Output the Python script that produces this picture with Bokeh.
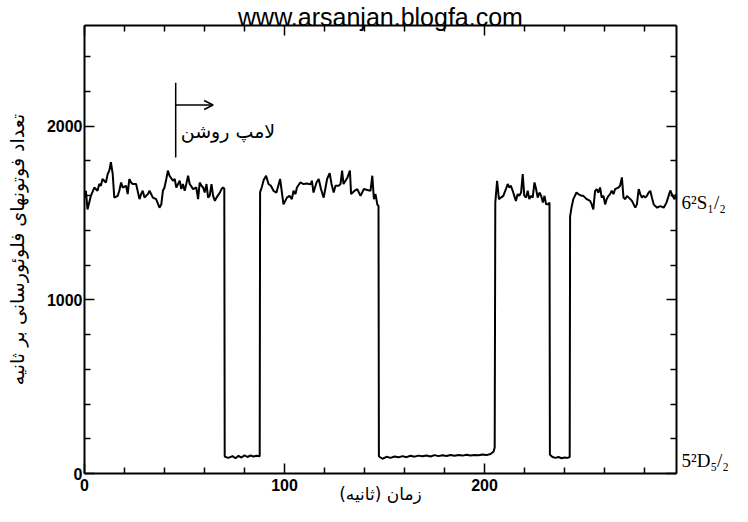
from bokeh.plotting import figure
from bokeh.models import Range1d, LinearAxis, FixedTicker, Label, Arrow, OpenHead, ColumnDataSource
from bokeh.embed import file_html
from bokeh.resources import INLINE

# ---- data ----
seg1_t = [0.0, 0.7, 1.5, 3.2, 4.9, 6.5, 7.4, 8.2, 9.0, 10.7, 11.6, 12.4, 13.2, 14.1, 14.9, 16.6,
          17.4, 18.3, 19.1, 20.8, 21.6, 22.4, 23.3, 24.1, 25.8, 27.5, 28.3, 29.1, 30.0, 30.8,
          31.7, 32.5, 34.2, 35.8, 37.5, 38.4, 39.2, 40.0, 40.9, 41.7, 42.5, 44.2, 45.1, 45.9,
          47.6, 48.4, 49.2, 50.1, 50.9, 51.8, 52.6, 54.3, 55.9, 56.8, 57.6, 58.5, 59.3, 60.1,
          61.0, 61.8, 62.6, 63.5, 64.3, 65.2, 66.0, 67.7, 68.5, 69.3, 69.9]
seg1_c = [1589, 1628, 1521, 1599, 1647, 1628, 1667, 1657, 1696, 1676, 1725, 1744, 1793, 1725, 1589, 1599,
          1628, 1676, 1647, 1657, 1609, 1696, 1676, 1667, 1667, 1580, 1609, 1628, 1589, 1599,
          1609, 1628, 1589, 1580, 1531, 1550, 1628, 1647, 1696, 1744, 1715, 1686, 1696, 1647,
          1686, 1638, 1667, 1628, 1667, 1715, 1667, 1638, 1647, 1580, 1676, 1657, 1647, 1618,
          1667, 1589, 1599, 1667, 1599, 1570, 1589, 1618, 1638, 1647, 1640]

low1_t = [70.1, 70.5, 72.0, 74.0, 75.5, 77.0, 78.5, 80.0, 81.5, 83.0, 84.5, 86.0, 87.6]
low1_c = [100, 95, 90, 100, 88, 102, 92, 105, 95, 104, 98, 102, 100]

seg2_t = [87.8, 88.6, 89.6, 90.8, 92.0, 93.2, 94.5, 96.0, 97.8, 99.5, 101.2, 102.5, 103.7, 104.5,
          105.5, 106.2, 107.9, 109.5, 111.2, 113.0, 113.7, 114.5, 116.0, 117.1, 118.2, 119.6,
          121.3, 122.6, 123.5, 124.6, 125.5, 127.1, 128.0, 128.8, 129.5, 130.5, 131.5, 132.7,
          133.3, 135.0, 136.4, 138.0, 139.7, 141.4, 143.0, 143.9, 144.7, 145.5, 146.4, 147.0]
seg2_c = [1620, 1647, 1690, 1715, 1667, 1657, 1628, 1618, 1696, 1550, 1589, 1599, 1580, 1628,
          1609, 1647, 1676, 1667, 1670, 1665, 1686, 1618, 1676, 1696, 1640, 1589,
          1696, 1730, 1667, 1618, 1657, 1657, 1667, 1744, 1667, 1686, 1705, 1744,
          1609, 1628, 1638, 1599, 1638, 1633, 1628, 1715, 1580, 1609, 1550, 1540]

low2_t = [147.2, 147.6, 149.0, 151.0, 153.0, 155.0, 157.0, 159.0, 161.0, 163.0, 165.0, 167.0, 169.0,
          171.0, 173.0, 175.0, 177.0, 179.0, 181.0, 183.0, 185.0, 187.0, 189.0, 191.0, 193.0,
          195.0, 197.0, 199.0, 201.0, 203.0, 204.5, 205.1]
low2_c = [100, 95, 85, 96, 90, 98, 93, 100, 94, 102, 97, 103, 99, 104, 98, 106, 100, 105, 101,
          107, 102, 106, 103, 108, 104, 107, 105, 109, 106, 112, 125, 150]

seg3_t = [205.4, 206.3, 207.2, 208.2, 209.4, 210.7, 211.6, 212.4, 213.2, 214.1, 214.9, 215.7,
          216.6, 217.4, 218.3, 219.1, 219.9, 220.8, 221.6, 222.4, 223.3, 224.1, 225.0, 225.8,
          226.6, 227.5, 228.3, 229.2, 230.0, 230.8, 231.7, 232.5]
seg3_c = [1560, 1686, 1580, 1589, 1599, 1638, 1667, 1647, 1657, 1628, 1599, 1570,
          1609, 1599, 1618, 1725, 1599, 1589, 1628, 1580, 1599, 1589, 1676, 1638,
          1589, 1618, 1599, 1560, 1599, 1550, 1550, 1560]

low3_t = [232.7, 233.0, 234.0, 235.5, 237.0, 238.5, 240.0, 241.5, 242.6]
low3_c = [110, 105, 95, 90, 95, 88, 92, 90, 95]

seg4_t = [242.8, 243.5, 244.4, 245.2, 246.0, 246.9, 248.6, 249.4, 251.1, 252.8, 253.6, 254.4,
          255.3, 256.1, 256.9, 257.8, 258.6, 259.5, 260.3, 261.1, 262.0, 262.8, 263.6, 264.5,
          265.3, 267.0, 267.8, 268.7, 269.5, 270.4, 271.2, 272.9, 273.7, 275.4, 276.2, 277.1,
          277.9, 278.7, 279.6, 280.4, 281.2, 282.1, 282.9, 283.7, 284.6, 285.4, 286.3, 287.9,
          289.6, 291.0, 292.9, 294.0, 295.0, 296.0]
seg4_c = [1480, 1531, 1580, 1599, 1618, 1609, 1599, 1599, 1580, 1570, 1550, 1521,
          1628, 1638, 1618, 1647, 1589, 1599, 1550, 1580, 1599, 1609, 1628, 1609,
          1638, 1647, 1657, 1705, 1589, 1580, 1599, 1580, 1570, 1531, 1550, 1638,
          1609, 1589, 1599, 1589, 1599, 1618, 1628, 1589, 1550, 1540, 1531, 1540,
          1531, 1560, 1630, 1600, 1580, 1610]

time_s = seg1_t + low1_t + seg2_t + low2_t + seg3_t + low3_t + seg4_t
counts = seg1_c + low1_c + seg2_c + low2_c + seg3_c + low3_c + seg4_c

x_major = [0, 100, 200]
x_minor = [20, 40, 60, 80, 120, 140, 160, 180, 220, 240, 260, 280]
y_major = [0, 1000, 2000]
y_minor = [200, 400, 600, 800, 1200, 1400, 1600, 1800, 2200, 2400]

x_title = "زمان (ثانیه)"
y_title = "تعداد فوتونهای فلوئورسانی بر ثانیه"
lamp_text = "لامپ روشن"
site_text = "www.arsanjan.blogfa.com"

level_values = [1560, 75]
level_names = ["6²S₁/₂", "5²D₅/₂"]

lamp_on_time = 45.6
lamp_line_y = (1820, 2250)
lamp_arrow_y = 2122
lamp_arrow_end = 64.3

X_END = 296
Y_END = 2580

p = figure(width=732, height=506, output_backend="svg", toolbar_location=None,
           x_range=Range1d(0, X_END), y_range=Range1d(0, Y_END),
           x_axis_location=None, y_axis_location=None,
           min_border_left=84, min_border_right=56, min_border_top=25, min_border_bottom=30)
p.grid.visible = False
p.outline_line_color = None
p.background_fill_color = "white"
p.border_fill_color = "white"

p.title.text = site_text
p.title.align = "center"
p.title.text_font = "Liberation Sans"
p.title.text_font_style = "normal"
p.title.text_font_size = "25px"
p.title.text_color = "black"
p.title.standoff = -10


def make_axis(major, minor, labels=True):
    ax = LinearAxis(ticker=FixedTicker(ticks=major, minor_ticks=minor))
    ax.axis_line_width = 2
    ax.axis_line_color = "black"
    ax.major_tick_in = 10
    ax.major_tick_out = 0
    ax.minor_tick_in = 6
    ax.minor_tick_out = 0
    ax.major_tick_line_width = 1.5
    ax.minor_tick_line_width = 1.5
    ax.major_label_text_font = "Liberation Sans"
    ax.major_label_text_font_style = "bold"
    ax.major_label_text_font_size = "16px"
    ax.major_label_text_color = "black"
    if not labels:
        ax.major_label_overrides = {m: "" for m in major}
        ax.major_label_text_font_size = "0px"
        ax.major_label_standoff = 0
    return ax


left = make_axis(y_major, y_minor)
left.major_label_standoff = 2
left.axis_label = y_title
left.axis_label_text_font = "DejaVu Sans"
left.axis_label_text_font_style = "normal"
left.axis_label_text_font_size = "19px"
left.axis_label_text_color = "black"
left.axis_label_standoff = 16

bottom = make_axis(x_major, x_minor)
bottom.major_label_standoff = 5
bottom.axis_label = x_title
bottom.axis_label_text_font = "DejaVu Sans"
bottom.axis_label_text_font_style = "normal"
bottom.axis_label_text_font_size = "17px"
bottom.axis_label_text_color = "black"
bottom.axis_label_standoff = -10

right = make_axis(y_major, y_minor, labels=False)
top = make_axis(x_major, x_minor, labels=False)

levels = LinearAxis(ticker=FixedTicker(ticks=level_values, minor_ticks=[]))
levels.major_label_overrides = {v: n for v, n in zip(level_values, level_names)}
levels.axis_line_color = None
levels.major_tick_line_color = None
levels.minor_tick_line_color = None
levels.major_tick_in = 0
levels.major_tick_out = 0
levels.major_label_standoff = 5
levels.major_label_text_font = "Liberation Serif"
levels.major_label_text_font_size = "19px"
levels.major_label_text_color = "black"

p.add_layout(left, "left")
p.add_layout(bottom, "below")
p.add_layout(right, "right")
p.add_layout(levels, "right")
p.add_layout(top, "above")

src = ColumnDataSource(data=dict(t=time_s, c=counts))
p.line("t", "c", source=src, line_color="black", line_width=2)

# lamp-on marker
p.line([lamp_on_time, lamp_on_time], list(lamp_line_y), line_color="black", line_width=1.5)
p.add_layout(Arrow(end=OpenHead(size=9, line_width=1.5, line_color="black"),
                   x_start=lamp_on_time, y_start=lamp_arrow_y,
                   x_end=lamp_arrow_end, y_end=lamp_arrow_y,
                   line_width=1.5, line_color="black"))
p.add_layout(Label(x=lamp_on_time, y=(lamp_line_y[0] + lamp_arrow_y) / 2, x_offset=5,
                   text=lamp_text, text_font="DejaVu Sans", text_font_size="19px",
                   text_align="left", text_baseline="middle", text_color="black"))

open("out.html", "w").write(file_html(p, INLINE))
